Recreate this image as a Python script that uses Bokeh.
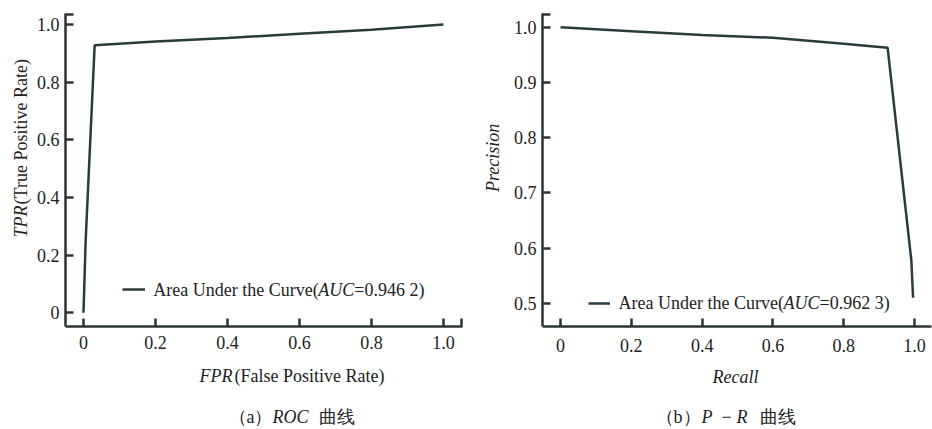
import math
from bokeh.plotting import figure
from bokeh.models import Range1d, FixedTicker, Label, Legend, LegendItem, CustomJSTickFormatter
from bokeh.layouts import row, column
from bokeh.embed import file_html
from bokeh.resources import INLINE

# ---- data ----
roc_fpr = [0.0, 0.006, 0.031, 0.2, 0.4, 0.6, 0.8, 1.0]
roc_tpr = [0.0, 0.25, 0.928, 0.941, 0.953, 0.968, 0.982, 1.0]
roc_auc_text = "=0.946 2)"

pr_recall = [0.0, 0.2, 0.4, 0.6, 0.8, 0.924, 0.991, 0.996]
pr_precision = [1.0, 0.993, 0.986, 0.981, 0.970, 0.963, 0.578, 0.51]
pr_auc_text = "=0.962 3)"

roc_xticks = [0, 0.2, 0.4, 0.6, 0.8, 1.0]
roc_yticks = [0, 0.2, 0.4, 0.6, 0.8, 1.0]
pr_xticks = [0, 0.2, 0.4, 0.6, 0.8, 1.0]
pr_yticks = [0.5, 0.6, 0.7, 0.8, 0.9, 1.0]

# ---- style ----
FONT = "Liberation Serif"
LINE_C = "#283b3d"
AXIS_C = "#2c3536"
TEXT_C = "#222222"
TOP_H = 362          # height of the row holding the two charts
BOT_H = 67           # height of the strip holding titles and captions

fmt_code = """
if (tick > 1.01) { return ""; }
if (Math.abs(tick) < 1e-9) { return "0"; }
return tick.toFixed(1);
"""


def style(p):
    p.outline_line_color = None
    p.xgrid.visible = False
    p.ygrid.visible = False
    for ax in (p.xaxis[0], p.yaxis[0]):
        ax.axis_line_width = 2.5
        ax.axis_line_color = AXIS_C
        ax.major_tick_line_width = 2.5
        ax.major_tick_line_color = AXIS_C
        ax.major_tick_in = 8
        ax.major_tick_out = 0
        ax.minor_tick_line_color = None
        ax.major_label_text_font = FONT
        ax.major_label_text_font_size = "18px"
        ax.major_label_text_color = TEXT_C
        ax.formatter = CustomJSTickFormatter(code=fmt_code)


def text_fig(w, h):
    f = figure(width=w, height=h, output_backend="svg", toolbar_location=None,
               x_range=Range1d(0, w), y_range=Range1d(h, 0),
               x_axis_type=None, y_axis_type=None, min_border=0)
    f.outline_line_color = None
    return f


def pieces(p, x, y, parts, size="18px", angle=0.0, align="left"):
    for text, off, italic in parts:
        kw = dict(x=x, y=y, text=text, text_font=FONT, text_font_size=size,
                  text_color=TEXT_C, text_baseline="middle", text_align=align,
                  angle=angle,
                  text_font_style="italic" if italic else "normal")
        if angle:
            kw["y_offset"] = off
        else:
            kw["x_offset"] = off
        p.add_layout(Label(**kw))


# ---------------- ROC ----------------
p1 = figure(width=446, height=TOP_H, output_backend="svg", toolbar_location=None,
            x_range=Range1d(-0.05, 1.053), y_range=Range1d(-0.048, 1.038),
            min_border_left=33, min_border_right=16, min_border_top=13, min_border_bottom=34)
r1 = p1.line(roc_fpr, roc_tpr, line_color=LINE_C, line_width=2.5)
style(p1)
p1.xaxis[0].ticker = FixedTicker(ticks=roc_xticks + [1.05])
p1.yaxis[0].ticker = FixedTicker(ticks=roc_yticks + [1.036])
p1.xaxis[0].major_label_standoff = 9
p1.yaxis[0].major_label_standoff = 6

leg1 = Legend(items=[LegendItem(label=" ", renderers=[r1])], location=(57, 27),
              padding=0, margin=0, spacing=0, border_line_alpha=0, background_fill_alpha=0,
              glyph_width=23, glyph_height=20, label_height=20, label_width=0,
              label_standoff=0, label_text_font_size="1px")
p1.add_layout(leg1, "center")
pieces(p1, 0.194, 0.079, [("Area Under the Curve(", 0, False), ("AUC", 165, True),
                          (roc_auc_text, 201, False)])

# ---------------- P-R ----------------
p2 = figure(width=426, height=TOP_H, output_backend="svg", toolbar_location=None,
            x_range=Range1d(-0.051, 1.048), y_range=Range1d(0.458, 1.025),
            min_border_left=36, min_border_right=1, min_border_top=13, min_border_bottom=36)
r2 = p2.line(pr_recall, pr_precision, line_color=LINE_C, line_width=2.5)
style(p2)
p2.xaxis[0].ticker = FixedTicker(ticks=pr_xticks)
p2.yaxis[0].ticker = FixedTicker(ticks=pr_yticks + [1.023])
p2.xaxis[0].major_label_standoff = 12
p2.yaxis[0].major_label_standoff = 6

leg2 = Legend(items=[LegendItem(label=" ", renderers=[r2])], location=(46, 13),
              padding=0, margin=0, spacing=0, border_line_alpha=0, background_fill_alpha=0,
              glyph_width=22, glyph_height=20, label_height=20, label_width=0,
              label_standoff=0, label_text_font_size="1px")
p2.add_layout(leg2, "center")
pieces(p2, 0.164, 0.5005, [("Area Under the Curve(", 0, False), ("AUC", 165, True),
                           (pr_auc_text, 201, False)])

# ---------------- title strips ----------------
ly1 = text_fig(32, TOP_H)
pieces(ly1, 20, 259, [("TPR", 0, True), ("(True Positive Rate)", 33, False)], angle=math.pi / 2)

ly2 = text_fig(28, TOP_H)
pieces(ly2, 14, 167, [("Precision", 0, True)], angle=math.pi / 2, align="center")

bottom = text_fig(932, BOT_H)
pieces(bottom, 199, 13, [("FPR", 0, True), ("(False Positive Rate)", 35, False)])
pieces(bottom, 735, 14, [("Recall", 0, True)], align="center")
pieces(bottom, 228, 54, [("（a）", 0, False), ("ROC", 44, True), ("曲线", 90, False)])
pieces(bottom, 655, 54, [("（b）", 0, False), ("P", 46, True), ("−", 66, False),
                         ("R", 81, True), ("曲线", 104, False)])

layout = column(row(ly1, p1, ly2, p2), bottom)
open("out.html", "w").write(file_html(layout, INLINE))
